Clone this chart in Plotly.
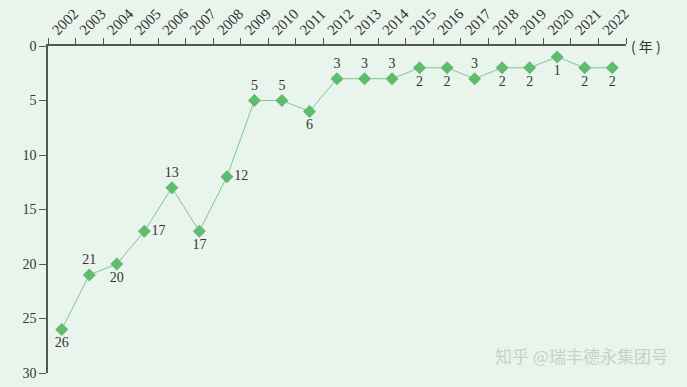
import plotly.graph_objects as go

years = [str(y) for y in range(2002, 2023)]
ranks = [26, 21, 20, 17, 13, 17, 12, 5, 5, 6, 3, 3, 3, 2, 2, 3, 2, 2, 1, 2, 2]
label_pos = ["bottom center", "top center", "bottom center", "middle right", "top center",
             "bottom center", "middle right", "top center", "top center", "bottom center",
             "top center", "top center", "top center", "bottom center", "bottom center",
             "top center", "bottom center", "bottom center", "bottom center", "bottom center",
             "bottom center"]
y_ticks = [0, 5, 10, 15, 20, 25, 30]

bg = "#e9f4ec"
serif = "Liberation Serif"

fig = go.Figure()
fig.add_trace(go.Scatter(
    x=years, y=ranks, mode="lines+markers+text",
    line=dict(color="#7fc98c", width=1),
    marker=dict(symbol="diamond", size=10, color="#5fbb70"),
    text=[str(v) for v in ranks], textposition=label_pos,
    textfont=dict(family=serif, size=14, color="#333333"),
    cliponaxis=False, showlegend=False, hoverinfo="skip",
))

fig.update_layout(
    width=687, height=387,
    margin=dict(l=48, r=61, t=46, b=14),
    paper_bgcolor=bg, plot_bgcolor=bg,
    xaxis=dict(
        type="category", side="top", tickson="boundaries", automargin=False,
        range=[-0.5, 20.5], showgrid=False, showline=True,
        linecolor="#555555", linewidth=1.5, ticks="outside", ticklen=6,
        tickcolor="#555555", tickangle=-45, ticklabelshift=-9,
        tickfont=dict(family=serif, size=15, color="#333333"),
        zeroline=False,
    ),
    yaxis=dict(
        range=[30, 0], tickvals=y_ticks, showgrid=False, showline=True, automargin=False,
        linecolor="#555555", linewidth=1.5, ticks="outside", ticklen=7,
        tickcolor="#555555", zeroline=False,
        tickfont=dict(family=serif, size=14, color="#333333"),
    ),
    annotations=[
        dict(text="( 年 )", x=1.0, y=1.0, xref="paper", yref="paper",
             xanchor="left", yanchor="middle", xshift=3, showarrow=False,
             font=dict(family="Noto Sans CJK SC", size=14, color="#333333")),
        dict(text="知乎 @瑞丰德永集团号", x=1.0, y=0.0, xref="paper", yref="paper",
             showarrow=False, font=dict(family="Noto Sans CJK SC", size=17, color="#cacfcb")),
    ],
)
pw = 687 - 48 - 61
ph = 387 - 46 - 14
fig.layout.annotations[1].update(x=(670 - 48) / pw, y=(387 - 14 - 355) / ph,
                                 xanchor="right", yanchor="middle")

fig.write_html("out.html", config={"displayModeBar": False},
               post_script="document.body.style.margin='0';document.body.style.background='%s';" % bg)
